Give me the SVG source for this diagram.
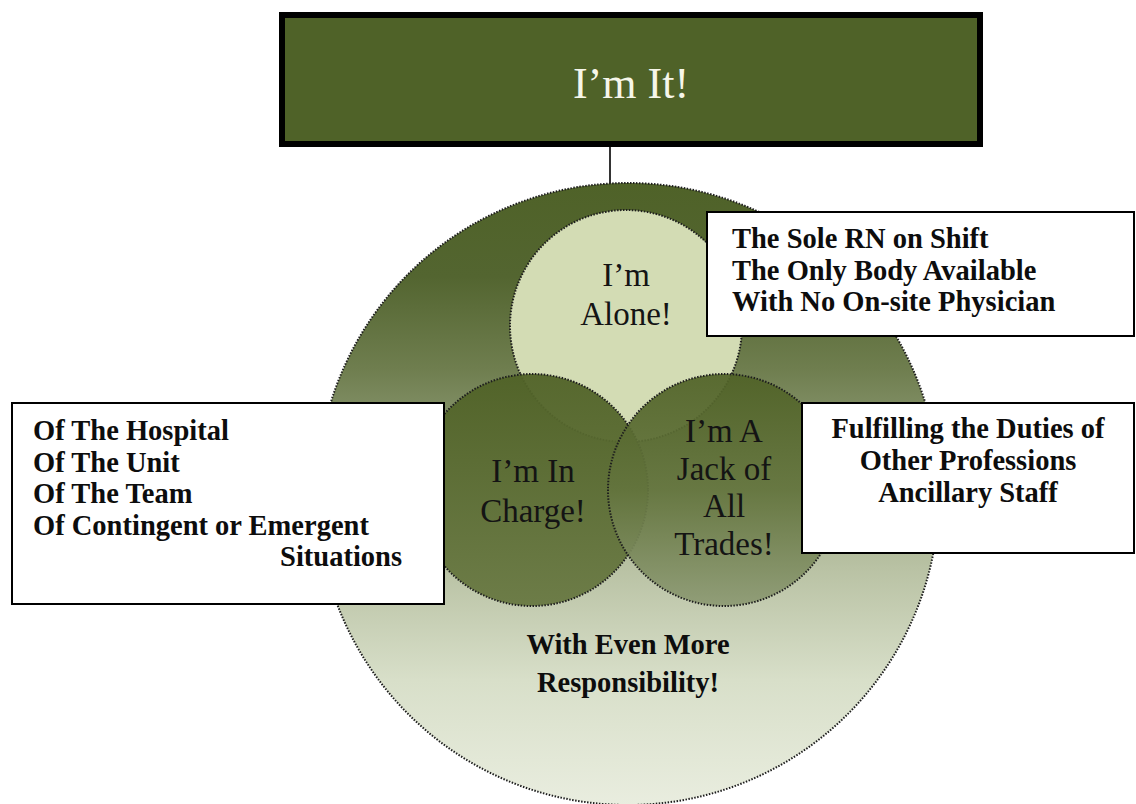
<svg xmlns="http://www.w3.org/2000/svg" width="1136" height="804" viewBox="0 0 1136 804">
  <defs>
    <linearGradient id="gBig" gradientUnits="userSpaceOnUse" x1="0" y1="183" x2="0" y2="805">
      <stop offset="0" stop-color="#4f6228"/>
      <stop offset="0.15" stop-color="#536530"/>
      <stop offset="0.30" stop-color="#6f7e4f"/>
      <stop offset="0.45" stop-color="#95a17d"/>
      <stop offset="0.62" stop-color="#b9c2a4"/>
      <stop offset="0.80" stop-color="#d8dfc9"/>
      <stop offset="1" stop-color="#e9eddf"/>
    </linearGradient>
    <linearGradient id="gLeft" x1="0" y1="0" x2="0" y2="1">
      <stop offset="0" stop-color="#506227"/>
      <stop offset="1" stop-color="#687842"/>
    </linearGradient>
    <linearGradient id="gRight" x1="0" y1="0" x2="0" y2="1">
      <stop offset="0" stop-color="#506227"/>
      <stop offset="0.5" stop-color="#63743d"/>
      <stop offset="1" stop-color="#8d9a74"/>
    </linearGradient>
  </defs>
  <style>
    .dotted { stroke: #1e1e1e; stroke-width: 2; stroke-dasharray: 1.5 1.5; }
    .label { font-family: "Liberation Serif", "Times New Roman", serif; font-size: 33px; fill: #141414; text-anchor: middle; }
    .bold { font-family: "Liberation Serif", "Times New Roman", serif; font-weight: bold; font-size: 28.5px; fill: #0d0d0d; }
    .box { fill: #ffffff; stroke: #000000; stroke-width: 2; }
    .conn { stroke: #000000; stroke-width: 1.6; fill: none; }
  </style>

  <!-- connector from the title bar down to the outer circle -->
  <g id="connectors">
    <line class="conn" x1="610" y1="147" x2="610" y2="184"/>
  </g>

  <!-- title bar -->
  <g id="node-im-it">
    <rect x="282" y="15" width="698" height="129" fill="#4f6228" stroke="#000000" stroke-width="6"/>
    <text x="631" y="98" text-anchor="middle" font-family="Liberation Serif, Times New Roman, serif" font-size="44" fill="#f6f6ea">I&#8217;m It!</text>
  </g>

  <!-- outer circle -->
  <g id="node-responsibility">
    <circle cx="628" cy="494" r="311" fill="url(#gBig)" class="dotted"/>
    <text class="bold" x="628" y="654" text-anchor="middle" font-size="34">With Even More</text>
    <text class="bold" x="628" y="692" text-anchor="middle" font-size="34">Responsibility!</text>
  </g>

  <!-- three overlapping circles -->
  <g id="node-alone">
    <circle cx="626" cy="326" r="116" fill="#d3dcb4" class="dotted"/>
    <text class="label" x="626" y="286">I&#8217;m</text>
    <text class="label" x="626" y="325">Alone!</text>
  </g>
  <g id="node-in-charge">
    <circle cx="532" cy="490" r="116" fill="url(#gLeft)" fill-opacity="0.95" class="dotted"/>
    <text class="label" x="533" y="482">I&#8217;m In</text>
    <text class="label" x="533" y="522">Charge!</text>
  </g>
  <g id="node-jack">
    <circle cx="724" cy="490" r="116" fill="url(#gRight)" fill-opacity="0.93" class="dotted"/>
    <text class="label" x="724" y="442">I&#8217;m A</text>
    <text class="label" x="724" y="480">Jack of</text>
    <text class="label" x="724" y="517">All</text>
    <text class="label" x="724" y="555">Trades!</text>
  </g>

  <!-- callout: alone -->
  <g id="node-alone-notes">
    <rect class="box" x="707" y="212" width="427" height="124"/>
    <text class="bold" x="732" y="248">The Sole RN on Shift</text>
    <text class="bold" x="732" y="280">The Only Body Available</text>
    <text class="bold" x="732" y="311">With No On-site Physician</text>
  </g>

  <!-- callout: in charge -->
  <g id="node-charge-notes">
    <rect class="box" x="12" y="403" width="432" height="201"/>
    <text class="bold" x="33" y="440">Of The Hospital</text>
    <text class="bold" x="33" y="472">Of The Unit</text>
    <text class="bold" x="33" y="503">Of The Team</text>
    <text class="bold" x="33" y="535">Of Contingent or Emergent</text>
    <text class="bold" x="402" y="566" text-anchor="end">Situations</text>
  </g>

  <!-- callout: jack of all trades -->
  <g id="node-jack-notes">
    <rect class="box" x="802" y="403" width="332" height="150"/>
    <text class="bold" x="968" y="438" text-anchor="middle">Fulfilling the Duties of</text>
    <text class="bold" x="968" y="470" text-anchor="middle">Other Professions</text>
    <text class="bold" x="968" y="502" text-anchor="middle">Ancillary Staff</text>
  </g>
</svg>
